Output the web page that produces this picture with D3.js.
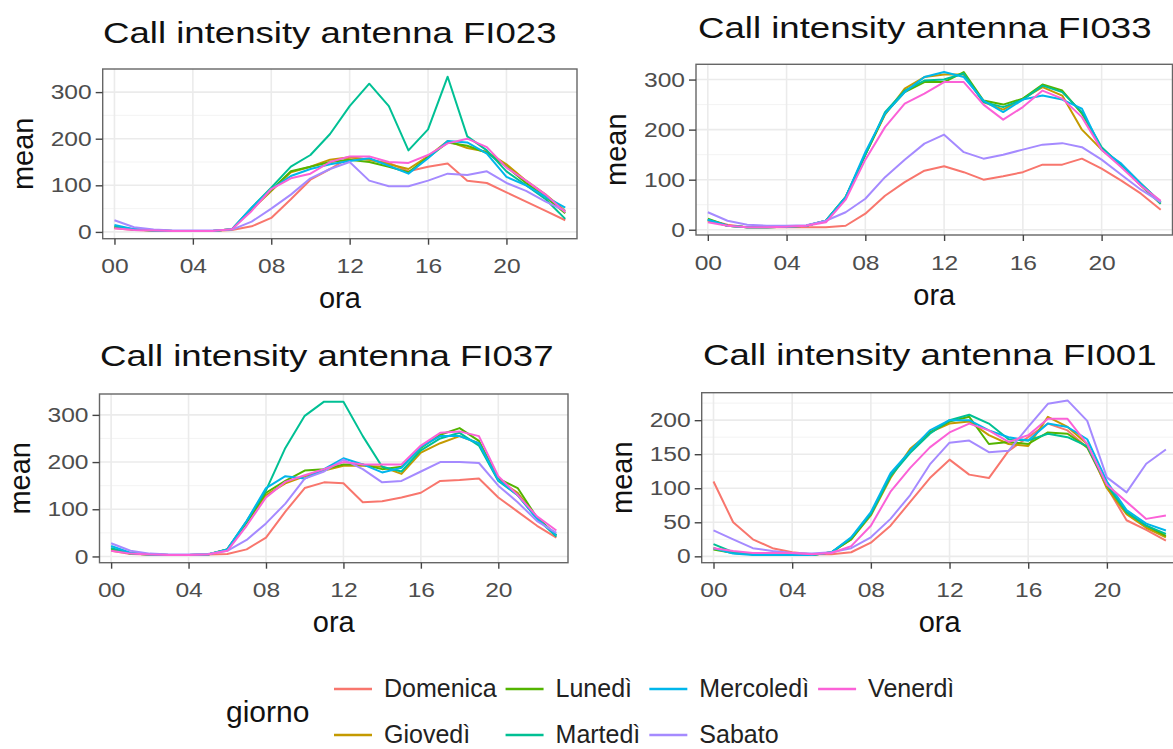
<!DOCTYPE html>
<html>
<head>
<meta charset="utf-8">
<script src="https://cdn.jsdelivr.net/npm/d3@7"></script>
<style>
  body { margin: 0; background: #fff; }
  svg { display: block; }
  text { font-family: "Liberation Sans", Arial, Helvetica, sans-serif; }
</style>
</head>
<body>
<div id="chart"></div>
<script>
// ---- data ----
const hours = ["00","01","02","03","04","05","06","07","08","09","10","11",
               "12","13","14","15","16","17","18","19","20","21","22","23"];
const xTicks = ["00","04","08","12","16","20"];
const yTicksWide = [0, 100, 200, 300];
const yTicksNarrow = [0, 50, 100, 150, 200];

const days = ["Domenica","Giovedì","Lunedì","Martedì","Mercoledì","Sabato","Venerdì"];
const dayColors = ["#F8766D","#C49A00","#53B400","#00C094","#00B6EB","#A58AFF","#FB61D7"];

const titles = ["Call intensity antenna FI023", "Call intensity antenna FI033",
                "Call intensity antenna FI037", "Call intensity antenna FI001"];

// one row per day, in the order of `days`
const fi023 = [
  [8,4,3,2,2,2,4,12,30,70,112,135,160,155,148,130,140,147,110,105,85,65,45,25],
  [10,5,3,2,2,2,6,48,88,128,140,155,160,155,145,135,162,195,180,172,145,110,80,45],
  [10,5,3,2,2,2,6,50,90,130,140,150,155,150,140,128,160,192,185,170,140,105,75,40],
  [12,5,3,2,2,2,6,52,95,140,165,210,270,318,270,175,220,333,205,175,130,100,70,28],
  [15,6,3,2,2,2,6,52,92,120,135,145,152,158,142,125,158,195,192,168,118,100,75,52],
  [25,10,5,3,3,3,5,22,50,80,115,135,150,110,98,98,110,125,122,130,105,88,65,45],
  [8,4,3,2,2,2,6,45,92,115,125,150,162,162,150,148,165,190,200,182,138,110,80,42]
];
const fi033 = [
  [20,10,5,5,5,5,5,8,32,68,95,118,127,115,100,107,115,130,130,142,122,98,72,40],
  [18,8,5,5,6,8,18,65,150,230,282,305,310,310,255,240,262,285,268,200,160,128,88,52],
  [22,8,5,5,6,8,18,65,150,232,275,295,295,315,258,250,262,290,278,232,162,130,92,55],
  [20,8,5,5,6,8,18,65,150,235,278,298,300,312,255,245,260,288,275,235,165,128,90,52],
  [20,8,5,5,6,8,18,65,155,232,275,305,315,305,258,235,260,268,260,242,160,132,92,55],
  [35,18,10,8,8,9,18,35,62,105,140,172,190,155,142,150,160,170,173,165,140,110,80,55],
  [15,8,5,5,6,8,15,60,140,205,252,272,295,295,250,220,245,278,262,225,160,125,88,58]
];
const fi037 = [
  [12,5,4,3,3,4,5,15,40,95,145,157,155,115,117,125,135,160,162,165,125,95,65,40],
  [15,6,4,3,3,4,15,72,130,155,170,182,192,192,190,175,220,240,255,240,162,135,82,45],
  [15,6,4,3,3,4,15,72,135,160,182,185,195,195,185,190,230,258,272,245,165,145,82,45],
  [18,6,4,3,3,4,15,75,140,230,298,328,328,255,190,180,225,250,262,235,160,130,80,42],
  [22,8,4,3,3,4,15,75,145,170,165,185,208,195,178,188,232,255,255,240,162,130,80,45],
  [28,12,6,4,4,5,12,35,70,112,165,180,205,185,157,160,180,200,200,198,150,115,75,50],
  [12,6,4,3,3,4,12,65,125,158,172,185,200,195,195,195,235,262,265,255,170,130,85,55]
];
const fi001 = [
  [110,50,25,12,6,3,3,6,20,45,80,115,142,120,115,155,175,195,185,160,102,53,39,23],
  [12,5,3,3,2,2,6,25,60,115,158,182,195,198,178,165,162,205,190,165,100,62,42,28],
  [10,5,3,3,2,2,6,25,62,118,155,182,198,205,165,168,165,182,180,160,105,65,45,30],
  [18,6,3,3,2,2,6,27,62,118,152,180,200,208,195,172,170,180,175,162,105,65,45,33],
  [12,4,2,2,2,2,6,28,65,122,155,185,200,200,185,175,170,195,190,172,110,68,48,38],
  [38,25,12,8,5,4,6,12,28,55,90,135,167,170,153,155,190,224,229,199,116,94,136,157],
  [12,8,5,5,5,3,5,15,45,95,130,160,182,195,185,168,178,202,202,165,105,80,55,60]
];

// ---- layout (screen px) ----
const W = 1173, H = 749;
const panels = [
  { title: titles[0], data: fi023, yTicks: yTicksWide,   box: [102.7, 69, 577, 238.7],    tx: 103, ty: 42.7 },
  { title: titles[1], data: fi033, yTicks: yTicksWide,   box: [696, 64.3, 1172.5, 235],   tx: 698, ty: 38.3 },
  { title: titles[2], data: fi037, yTicks: yTicksWide,   box: [99.5, 394, 568, 562.7],    tx: 100, ty: 366 },
  { title: titles[3], data: fi001, yTicks: yTicksNarrow, box: [701.7, 392.7, 1177.7, 562.7], tx: 703, ty: 365 }
];

const svg = d3.select("#chart").append("svg")
    .attr("width", W)
    .attr("height", H);

// the picture's text is a bit wider than the plain font, stretch it around its anchor
function widen(sel, sx) {
  sel.each(function() {
    const t = d3.select(this);
    const x = +t.attr("x") || 0;
    t.attr("transform", `translate(${x},0) scale(${sx},1) translate(${-x},0)`);
  });
}

panels.forEach(p => {
  const [x0, y0, x1, y1] = p.box;
  const w = x1 - x0, h = y1 - y0;
  const g = svg.append("g").attr("transform", `translate(${x0},${y0})`);

  const x = d3.scalePoint().domain(hours).range([0, w]).padding(0.6);
  const all = p.data.flat();
  const lo = d3.min(all), hi = d3.max(all), pad = (hi - lo) * 0.05;
  const y = d3.scaleLinear().domain([lo - pad, hi + pad]).range([h, 0]);

  // grid
  const step = p.yTicks[1] - p.yTicks[0];
  const minor = p.yTicks.map(t => t + step / 2).filter(v => y(v) > 0);
  g.selectAll(".minor").data(minor).join("line")
      .attr("x1", 0).attr("x2", w)
      .attr("y1", d => y(d)).attr("y2", d => y(d))
      .attr("stroke", "#F2F2F2").attr("stroke-width", 0.9);
  g.selectAll(".hgrid").data(p.yTicks).join("line")
      .attr("x1", 0).attr("x2", w)
      .attr("y1", d => y(d)).attr("y2", d => y(d))
      .attr("stroke", "#EBEBEB").attr("stroke-width", 1.6);
  g.selectAll(".vgrid").data(xTicks).join("line")
      .attr("x1", d => x(d)).attr("x2", d => x(d))
      .attr("y1", 0).attr("y2", h)
      .attr("stroke", "#EBEBEB").attr("stroke-width", 1.6);

  // series
  const line = d3.line()
      .x((d, i) => x(hours[i]))
      .y(d => y(d));
  g.selectAll(".series").data(p.data).join("path")
      .attr("fill", "none")
      .attr("stroke", (d, i) => dayColors[i])
      .attr("stroke-width", 2)
      .attr("stroke-linejoin", "round")
      .attr("d", line);

  // border
  g.append("rect")
      .attr("width", w).attr("height", h)
      .attr("fill", "none")
      .attr("stroke", "#666").attr("stroke-width", 1.4);

  // axes
  const ya = g.append("g")
      .call(d3.axisLeft(y).tickValues(p.yTicks).tickSize(7).tickPadding(4))
      .attr("font-size", null).attr("font-family", null);
  ya.select(".domain").remove();
  ya.selectAll("line").attr("stroke", "#444").attr("stroke-width", 1.4);
  ya.selectAll("text")
      .attr("font-size", 20.5).attr("fill", "#4D4D4D")
      .call(widen, 1.2);

  const xa = g.append("g")
      .attr("transform", `translate(0,${h})`)
      .call(d3.axisBottom(x).tickValues(xTicks).tickSize(6).tickPadding(14))
      .attr("font-size", null).attr("font-family", null);
  xa.select(".domain").remove();
  xa.selectAll("line").attr("stroke", "#444").attr("stroke-width", 1.4);
  xa.selectAll("text")
      .attr("font-size", 20.5).attr("fill", "#4D4D4D")
      .call(widen, 1.2);

  // titles
  svg.append("text")
      .attr("x", p.tx).attr("y", p.ty)
      .attr("font-size", 30).attr("fill", "#111")
      .text(p.title)
      .call(widen, 1.22);

  svg.append("text")
      .attr("x", (x0 + x1) / 2).attr("y", y1 + 69.5)
      .attr("text-anchor", "middle")
      .attr("font-size", 29).attr("fill", "#111")
      .text("ora");

  svg.append("text")
      .attr("transform", `translate(${x0 - 70},${(y0 + y1) / 2}) rotate(-90)`)
      .attr("text-anchor", "middle")
      .attr("font-size", 29).attr("fill", "#111")
      .text("mean");
});

// ---- legend ----
const legend = svg.append("g");
legend.append("text")
    .attr("x", 226).attr("y", 721.7)
    .attr("font-size", 30).attr("fill", "#111")
    .text("giorno");

const rowsY = [689, 735];
const keyLen = 38;
let colX = 334;
for (let c = 0; c * 2 < days.length; c++) {
  let maxW = 0;
  for (let r = 0; r < 2; r++) {
    const i = c * 2 + r;
    if (i >= days.length) break;
    legend.append("line")
        .attr("x1", colX).attr("x2", colX + keyLen)
        .attr("y1", rowsY[r]).attr("y2", rowsY[r])
        .attr("stroke", dayColors[i]).attr("stroke-width", 2.6);
    const t = legend.append("text")
        .attr("x", colX + keyLen + 12).attr("y", rowsY[r])
        .attr("dy", "0.32em")
        .attr("font-size", 25).attr("fill", "#222")
        .text(days[i]);
    maxW = Math.max(maxW, t.node().getComputedTextLength());
  }
  colX += keyLen + 12 + maxW + 9;
}
</script>
</body>
</html>
